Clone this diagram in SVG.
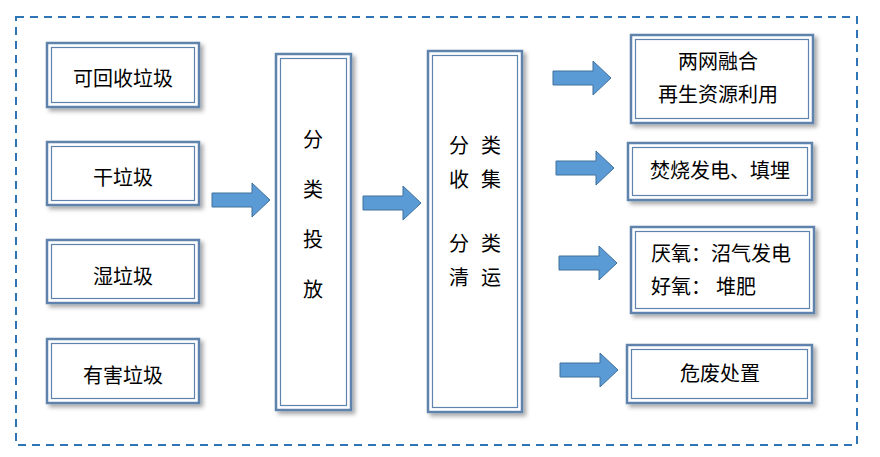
<svg xmlns="http://www.w3.org/2000/svg" width="880" height="457" viewBox="0 0 880 457">
<defs>
<filter id="sh" x="-20%" y="-20%" width="140%" height="140%">
<feDropShadow dx="3" dy="3" stdDeviation="2" flood-color="#000" flood-opacity="0.35"/>
</filter>
<path id="arr" d="M0,-7 L40,-7 L40,-17 L58,0 L40,17 L40,7 L0,7 Z"/>
</defs>
<style>
.o{fill:#fff;stroke:#5e83ad;stroke-width:2.5;filter:url(#sh)}
.i{fill:none;stroke:#5e83ad;stroke-width:1.2}
.t{font-family:"Liberation Serif","Noto Sans CJK SC",serif;font-size:20px;fill:#000;text-anchor:middle}
.a{fill:#5b9bd5;stroke:#41719c;stroke-width:1}
</style>
<rect x="16" y="17" width="841" height="428" fill="none" stroke="#2e75b6" stroke-width="2" stroke-dasharray="8 6"/>

<g id="n1"><rect class="o" x="47" y="43" width="152" height="64"/><rect class="i" x="51.5" y="47.5" width="143" height="55"/><text class="t" x="123" y="86">可回收垃圾</text></g>
<g id="n2"><rect class="o" x="47" y="142" width="152" height="63"/><rect class="i" x="51.5" y="146.5" width="143" height="54"/><text class="t" x="123" y="185">干垃圾</text></g>
<g id="n3"><rect class="o" x="47" y="240" width="152" height="63"/><rect class="i" x="51.5" y="244.5" width="143" height="54"/><text class="t" x="123" y="284">湿垃圾</text></g>
<g id="n4"><rect class="o" x="47" y="339" width="152" height="64"/><rect class="i" x="51.5" y="343.5" width="143" height="55"/><text class="t" x="123" y="383">有害垃圾</text></g>

<g id="n5"><rect class="o" x="276" y="54" width="75" height="356"/><rect class="i" x="280.5" y="58.5" width="66" height="347"/>
<text class="t" x="313" y="147">分</text><text class="t" x="313" y="197">类</text><text class="t" x="313" y="247">投</text><text class="t" x="313" y="297">放</text></g>

<g id="n6"><rect class="o" x="428" y="51" width="94" height="361"/><rect class="i" x="432.5" y="55.5" width="85" height="352"/>
<text class="t" x="459" y="153">分</text><text class="t" x="491" y="153">类</text>
<text class="t" x="459" y="187">收</text><text class="t" x="491" y="187">集</text>
<text class="t" x="459" y="251">分</text><text class="t" x="491" y="251">类</text>
<text class="t" x="459" y="285">清</text><text class="t" x="491" y="285">运</text></g>

<g id="n7"><rect class="o" x="631" y="35" width="182" height="88"/><rect class="i" x="635.5" y="39.5" width="173" height="79"/><text class="t" x="718" y="69">两网融合</text><text class="t" x="718" y="102">再生资源利用</text></g>
<g id="n8"><rect class="o" x="628" y="143" width="184" height="57"/><rect class="i" x="632.5" y="147.5" width="175" height="48"/><text class="t" x="720" y="178">焚烧发电、填埋</text></g>
<g id="n9"><rect class="o" x="631" y="227" width="183" height="86"/><rect class="i" x="635.5" y="231.5" width="174" height="77"/><text class="t" x="651" y="261" style="text-anchor:start">厌氧：沼气发电</text><text class="t" x="651" y="294" style="text-anchor:start" xml:space="preserve">好氧： 堆肥</text></g>
<g id="n10"><rect class="o" x="627" y="345" width="185" height="58"/><rect class="i" x="631.5" y="349.5" width="176" height="49"/><text class="t" x="720" y="381">危废处置</text></g>

<g id="connectors">
<use href="#arr" class="a" transform="translate(212,200)"/>
<use href="#arr" class="a" transform="translate(363,203)"/>
<use href="#arr" class="a" transform="translate(553,78)"/>
<use href="#arr" class="a" transform="translate(556,168)"/>
<use href="#arr" class="a" transform="translate(559,263)"/>
<use href="#arr" class="a" transform="translate(560,370)"/>
</g>
</svg>
